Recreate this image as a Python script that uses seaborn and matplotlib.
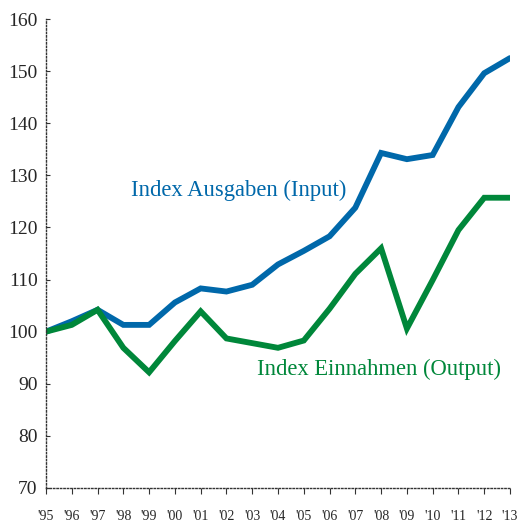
import matplotlib
matplotlib.use("Agg")
import matplotlib.pyplot as plt
import seaborn as sns
import pandas as pd

years = ["'95", "'96", "'97", "'98", "'99", "'00", "'01", "'02", "'03", "'04",
         "'05", "'06", "'07", "'08", "'09", "'10", "'11", "'12", "'13"]
ausgaben = [100, 102, 104.2, 101.3, 101.3, 105.6, 108.3, 107.7, 109, 112.9,
            115.5, 118.3, 123.8, 134.3, 133.1, 133.9, 143.1, 149.6, 152.5]
einnahmen = [100, 101.3, 104.2, 96.9, 92.2, 98.2, 103.9, 98.7, 97.8, 96.9,
             98.3, 104.4, 111.1, 116, 100.6, 109.9, 119.5, 125.7, 125.7]
label_in = "Index Ausgaben (Input)"
label_out = "Index Einnahmen (Output)"
yticks = [70, 80, 90, 100, 110, 120, 130, 140, 150, 160]

blue = "#0068aa"
green = "#00873a"

sns.set_style("white")
plt.rcParams["font.family"] = ["Liberation Serif", "DejaVu Serif"]

n = len(years)
df = pd.DataFrame({
    "x": list(range(n)) * 2,
    "value": ausgaben + einnahmen,
    "series": [label_in] * n + [label_out] * n,
})

fig = plt.figure(figsize=(5.17, 5.27), dpi=100)
ax = fig.add_axes([46 / 517, 1 - 488 / 527, (510 - 46) / 517, (488 - 19) / 527])
sns.lineplot(data=df, x="x", y="value", hue="series",
             palette={label_in: blue, label_out: green},
             linewidth=4.2, legend=False, ax=ax, solid_joinstyle="miter")

ax.set_xlim(0, n - 1)
ax.set_ylim(70, 160)
ax.set_xticks(range(n))
ax.set_xticklabels(years, fontsize=10)
ax.set_yticks(yticks)
ax.set_yticklabels([str(t) for t in yticks], fontsize=14)
ax.set_xlabel("")
ax.set_ylabel("")

for s in ["top", "right"]:
    ax.spines[s].set_visible(False)
for s in ["left", "bottom"]:
    ax.spines[s].set_linestyle((0, (1, 1.5)))
    ax.spines[s].set_linewidth(1.0)
    ax.spines[s].set_color("#333333")
ax.tick_params(axis="x", direction="out", length=4, width=0.8, color="#333333", pad=12)
ax.tick_params(axis="y", direction="in", length=3, width=0.8, color="#333333", pad=6,
               left=True)
ax.tick_params(axis="x", bottom=True)

ax.text(3.28, 127.2, label_in, color=blue, fontsize=16.3, ha="left", va="center")
ax.text(8.18, 92.8, label_out, color=green, fontsize=16.3, ha="left", va="center")

fig.savefig("out.png", dpi=100)
